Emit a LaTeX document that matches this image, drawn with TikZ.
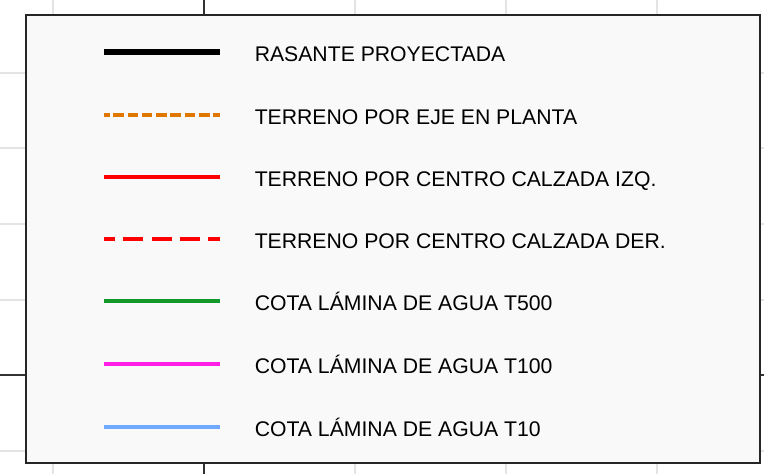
\documentclass[tikz,border=0pt]{standalone}
\usepackage{fontspec}
\setmainfont{Liberation Sans}
\definecolor{gridgray}{HTML}{E4E4E4}
\definecolor{axisgray}{HTML}{333333}
\definecolor{boxfill}{HTML}{F9F9F9}
\definecolor{legorange}{HTML}{E07800}
\definecolor{legred}{HTML}{FF0000}
\definecolor{leggreen}{HTML}{12992A}
\definecolor{legmagenta}{HTML}{FF1EE6}
\definecolor{legblue}{HTML}{70AAFF}
\tikzset{
  gridline/.style={draw=gridgray, line width=1.3pt},
  axisline/.style={draw=axisgray, line width=1.1pt},
  legendbox/.style={draw=black!85, fill=boxfill, line width=1.3pt, inner sep=0pt,
    minimum width=550.5pt, minimum height=336pt, anchor=north west},
  sample/.style={line width=3.6pt, line cap=butt},
  legtext/.style={anchor=base west, inner sep=0pt, font=\fontsize{15.9}{19}\selectfont},
  sblack/.style={sample, draw=black, line width=4.1pt},
  sorange/.style={sample, draw=legorange, line width=3.3pt, dash pattern=on 8pt off 2.7pt, dash phase=3.75pt},
  sred/.style={sample, draw=legred},
  sredd/.style={sample, draw=legred, line width=3.3pt, dash pattern=on 15pt off 6.25pt, dash phase=6.75pt},
  sgreen/.style={sample, draw=leggreen},
  smag/.style={sample, draw=legmagenta},
  sblue/.style={sample, draw=legblue},
}
\begin{document}
\begin{tikzpicture}[x=0.75pt,y=-0.75pt]
\useasboundingbox (0,0) rectangle (764,474);
\foreach \x in {53,355,506,657} \draw[gridline] (\x,0) -- (\x,474);
\foreach \y in {72.7,148,224,300,451} \draw[gridline] (0,\y) -- (764,\y);
\draw[axisline] (204,0) -- (204,474);
\draw[axisline] (0,375) -- (764,375);
\node[legendbox] (box) at (25,14) {};
\foreach \y/\sty/\txt [count=\i] in {
  52/sblack/RASANTE PROYECTADA,
  115/sorange/TERRENO POR EJE EN PLANTA,
  177/sred/TERRENO POR CENTRO CALZADA IZQ.,
  239/sredd/TERRENO POR CENTRO CALZADA DER.,
  301/sgreen/COTA LÁMINA DE AGUA T500,
  364/smag/COTA LÁMINA DE AGUA T100,
  427/sblue/COTA LÁMINA DE AGUA T10}{
  \coordinate (a\i) at (104,\y);
  \coordinate (b\i) at (220,\y);
  \draw[\sty] (a\i) -- (b\i);
  \node[legtext] (t\i) at (254.5,\y+9.6) {\txt};
}
\end{tikzpicture}
\end{document}
